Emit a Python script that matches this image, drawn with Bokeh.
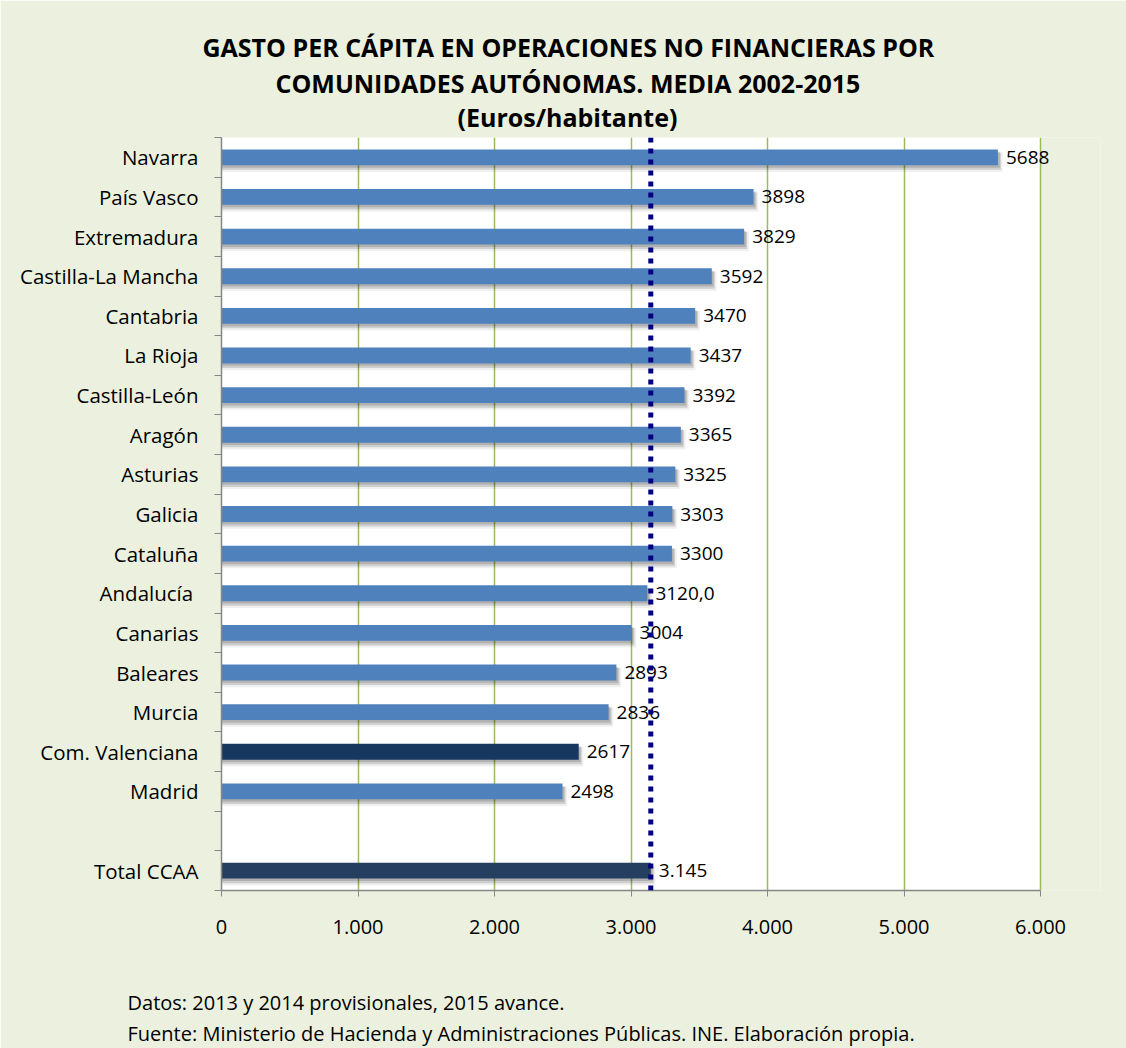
from bokeh.plotting import figure
from bokeh.models import Range1d, FixedTicker, Span, Title, ColumnDataSource, BoxAnnotation
from bokeh.core.properties import value
from bokeh.embed import file_html
from bokeh.resources import INLINE

# ---- data (top to bottom) ----
categories = ["Navarra", "País Vasco", "Extremadura", "Castilla-La Mancha", "Cantabria",
              "La Rioja", "Castilla-León", "Aragón", "Asturias", "Galicia", "Cataluña",
              "Andalucía ", "Canarias", "Baleares", "Murcia", "Com. Valenciana", "Madrid",
              "", "Total CCAA"]
values = [5688, 3898, 3829, 3592, 3470, 3437, 3392, 3365, 3325, 3303, 3300,
          3120.0, 3004, 2893, 2836, 2617, 2498, None, 3145]
value_labels = ["5688", "3898", "3829", "3592", "3470", "3437", "3392", "3365", "3325",
                "3303", "3300", "3120,0", "3004", "2893", "2836", "2617", "2498", "", "3.145"]
mean_value = 3145
x_ticks = [0, 1000, 2000, 3000, 4000, 5000, 6000]
x_tick_labels = ["0", "1.000", "2.000", "3.000", "4.000", "5.000", "6.000"]
title_lines = ["GASTO PER CÁPITA EN OPERACIONES NO FINANCIERAS POR",
               "COMUNIDADES AUTÓNOMAS. MEDIA 2002-2015",
               "(Euros/habitante)"]
notes = ["Datos: 2013 y 2014 provisionales, 2015 avance.",
         "Fuente: Ministerio de Hacienda y Administraciones Públicas. INE. Elaboración propia."]

# ---- layout ----
W, H = 1126, 1048
L, T, B = 221, 137, 158
AXIS_PX = 819            # pixel width of 0..6000
FRAME_RIGHT = 1100       # frame extended so the last value label is not clipped
R = W - FRAME_RIGHT
FW, FH = FRAME_RIGHT - L, H - T - B
n = len(categories)
XMAX = 6000
XEND = (FRAME_RIGHT - L) / AXIS_PX * XMAX
FONT = "Open Sans"
BG = "#ebf1de"

ypos = [n - 0.5 - i for i in range(n)]
rows = [i for i, v in enumerate(values) if v is not None]
colors = []
for c in categories:
    if c == "Com. Valenciana":
        colors.append("#17375e")
    elif c == "Total CCAA":
        colors.append("#243f60")
    else:
        colors.append("#4f81bd")

src = ColumnDataSource(dict(
    y=[ypos[i] for i in rows],
    v=[values[i] for i in rows],
    c=[colors[i] for i in rows],
    lab=[value_labels[i] for i in rows],
))

p = figure(width=W, height=H, x_range=Range1d(0, XEND), y_range=Range1d(0, n),
           output_backend="svg", toolbar_location=None,
           min_border_left=L, min_border_right=R, min_border_top=T, min_border_bottom=B)
p.background_fill_color = BG
p.border_fill_color = BG
p.outline_line_color = None

# white plot area 0..6000
p.add_layout(BoxAnnotation(left=0, right=XMAX, fill_color="white", fill_alpha=1.0,
                           line_color=None, level="image"))

# grid
p.xgrid.ticker = FixedTicker(ticks=x_ticks[1:])
p.xgrid.grid_line_color = "#9bbb59"
p.xgrid.grid_line_width = 1.5
p.ygrid.grid_line_color = None

# shadows
bh = 0.40
sx = 3 / AXIS_PX * XMAX
sy = 4 / FH * n
shadow_a = ColumnDataSource(dict(y=[ypos[i] - sy * 1.2 for i in rows],
                                 r=[values[i] + sx * 1.6 for i in rows]))
p.hbar(y="y", right="r", left=0, height=bh + 0.10, source=shadow_a,
       fill_color="#000000", fill_alpha=0.06, line_color=None)
shadow_b = ColumnDataSource(dict(y=[ypos[i] - sy for i in rows],
                                 r=[values[i] + sx for i in rows]))
p.hbar(y="y", right="r", left=0, height=bh + 0.03, source=shadow_b,
       fill_color="#000000", fill_alpha=0.14, line_color=None)
shadow_c = ColumnDataSource(dict(y=[ypos[i] - sy * 0.6 for i in rows],
                                 r=[values[i] + sx * 0.6 for i in rows]))
p.hbar(y="y", right="r", left=0, height=bh, source=shadow_c,
       fill_color="#000000", fill_alpha=0.14, line_color=None)

# bars
p.hbar(y="y", right="v", left=0, height=bh, source=src, fill_color="c", line_color=None)

# value labels
p.text(x="v", y="y", text="lab", source=src, x_offset=8, text_baseline="middle",
       text_align="left", text_font=value(FONT), text_font_size="19px", text_color="black")

# mean line
p.add_layout(Span(location=mean_value, dimension="height", line_color="#000080",
                  line_width=5, line_dash="5 6"))

# axes
xa = p.xaxis[0]
xa.ticker = FixedTicker(ticks=x_ticks)
xa.bounds = (0, XMAX)
xa.major_label_overrides = {t: s for t, s in zip(x_ticks, x_tick_labels)}
xa.axis_line_color = "#868686"
xa.axis_line_width = 1.5
xa.major_tick_line_color = "#868686"
xa.major_tick_out = 6
xa.major_tick_in = 0
xa.minor_tick_line_color = None
xa.major_label_standoff = 23
xa.major_label_text_font = FONT
xa.major_label_text_font_size = "20px"
xa.major_label_text_color = "black"
xa.axis_label = " "
xa.axis_label_standoff = 19
xa.axis_label_text_font = FONT
xa.axis_label_text_font_size = "20px"

ya = p.yaxis[0]
ya.ticker = FixedTicker(ticks=ypos, minor_ticks=list(range(n + 1)))
ya.major_label_overrides = {y: c for y, c in zip(ypos, categories)}
ya.axis_line_color = "#868686"
ya.axis_line_width = 1.5
ya.major_tick_line_color = None
ya.major_tick_out = 0
ya.major_tick_in = 0
ya.minor_tick_line_color = "#868686"
ya.minor_tick_out = 7
ya.minor_tick_in = 0
ya.major_label_standoff = 16
ya.major_label_text_font = FONT
ya.major_label_text_font_size = "20.5px"
ya.major_label_text_color = "black"

# title (added bottom line first: first added sits nearest the plot)
title_left = [202, 275, 457]
title_standoff = [12, -12, 8]
for line, left, so in reversed(list(zip(title_lines, title_left, title_standoff))):
    p.add_layout(Title(text=line, align="left", offset=left - L, text_font=FONT,
                       text_font_style="bold", text_font_size="25px",
                       text_color="black", standoff=so), "above")

# notes below the axis
for line in notes:
    p.add_layout(Title(text=line, align="left", offset=127 - L, text_font=FONT,
                       text_font_style="normal", text_font_size="20px",
                       text_color="black", standoff=2), "below")

open("out.html", "w").write(file_html(p, INLINE))
